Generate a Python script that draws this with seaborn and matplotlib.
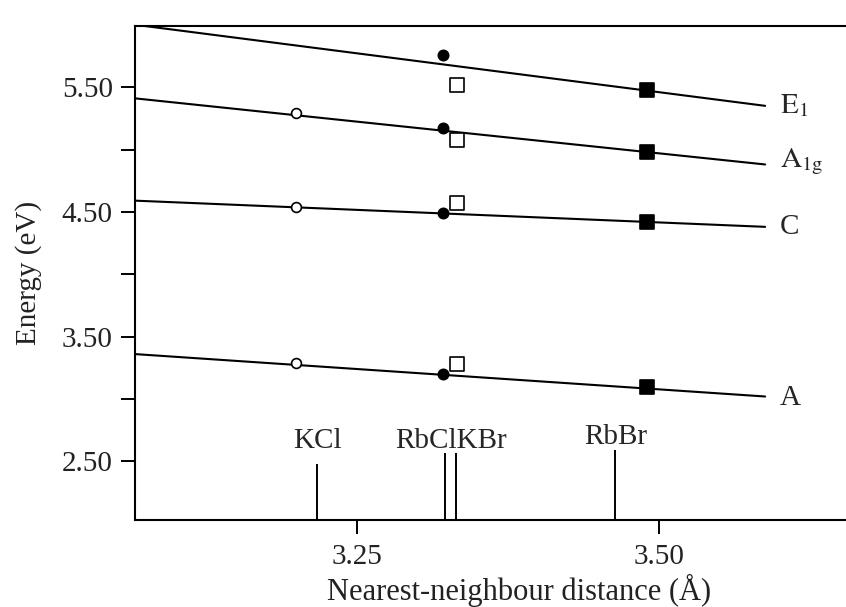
import matplotlib
matplotlib.use("Agg")
import matplotlib.pyplot as plt
import seaborn as sns
import pandas as pd

sns.set_theme(style="ticks")
plt.rcParams["font.family"] = ["Liberation Serif", "DejaVu Serif"]
plt.rcParams["mathtext.fontset"] = "stix"

# Bands and their fitted trend lines (energy at the two line ends)
bands = ["E1", "A1g", "C", "A"]
band_labels = [r"$\mathrm{E_1}$", r"$\mathrm{A_{1g}}$", "C", "A"]
line_x = [3.066, 3.588]
line_e1 = [6.00, 5.35]
line_a1g = [5.41, 4.88]
line_c = [4.59, 4.38]
line_a = [3.36, 3.02]

# Measured points for each crystal (E1, A1g, C, A)
point_x = {"open_circle": 3.199, "filled_circle": 3.321,
           "open_square": 3.333, "filled_square": 3.490}
e_open_circle = [None, 5.29, 4.54, 3.29]
e_filled_circle = [5.76, 5.17, 4.49, 3.20]
e_open_square = [5.52, 5.08, 4.57, 3.28]
e_filled_square = [5.48, 4.98, 4.42, 3.10]

# Salt markers along the distance axis
salts = ["KCl", "RbCl", "KBr", "RbBr"]
salt_x = [3.217, 3.323, 3.332, 3.464]
salt_top = [2.48, 2.57, 2.57, 2.59]

FS = 21
fig = plt.figure(figsize=(8.46, 6.07), dpi=100)
ax = fig.add_axes([135 / 846, 1 - 520 / 607, 1 - 135 / 846, (520 - 26) / 607])

line_sets = [line_e1, line_a1g, line_c, line_a]
for vals in line_sets:
    df = pd.DataFrame({"x": line_x, "y": vals})
    sns.lineplot(data=df, x="x", y="y", ax=ax, color="black", lw=1.5)

styles = [
    ("open_circle", e_open_circle, "o", "white", 50),
    ("filled_circle", e_filled_circle, "o", "black", 55),
    ("open_square", e_open_square, "s", "white", 90),
    ("filled_square", e_filled_square, "s", "black", 90),
]
for key, vals, mk, fc, sz in styles:
    rows = [(point_x[key], v) for v in vals if v is not None]
    df = pd.DataFrame(rows, columns=["x", "y"])
    sns.scatterplot(data=df, x="x", y="y", ax=ax, marker=mk, s=sz,
                    facecolor=fc, edgecolor="black", linewidth=1.2, zorder=3)

ax.set_xlim(3.066, 3.655)
ax.set_ylim(2.03, 5.99)

ax.vlines(salt_x, 2.03, salt_top, color="black", lw=1.4)
ax.text(salt_x[0], 2.61, "KCl", ha="center", va="baseline", fontsize=FS)
ax.text((salt_x[1] + salt_x[2]) / 2, 2.61, "RbClKBr", ha="center", va="baseline", fontsize=FS)
ax.text(salt_x[3], 2.64, "RbBr", ha="center", va="baseline", fontsize=FS)

label_y = [5.35, 4.90, 4.38, 3.01]
for lab, yy in zip(band_labels, label_y):
    ax.text(3.600, yy, lab, ha="left", va="center", fontsize=FS)

ax.set_xticks([3.25, 3.50])
ax.set_xticklabels(["3.25", "3.50"])
ax.set_yticks([2.5, 3.0, 3.5, 4.0, 4.5, 5.0, 5.5])
ax.set_yticklabels(["2.50", "", "3.50", "", "4.50", "", "5.50"])
ax.tick_params(axis="both", labelsize=FS, direction="out", length=10, width=1.4,
               color="black", labelcolor="#222222")
ax.tick_params(axis="x", pad=7)
ax.tick_params(axis="y", pad=6)

ax.set_xlabel("Nearest-neighbour distance (Å)", fontsize=22, color="#222222")
ax.xaxis.set_label_coords((519 - 135) / 711, -0.142)
ax.xaxis.label.set_va("center")
ax.set_ylabel("Energy (eV)", fontsize=FS, color="#222222", labelpad=14)

for side in ["left", "bottom", "top"]:
    ax.spines[side].set_color("black")
    ax.spines[side].set_linewidth(1.5)
ax.spines["right"].set_visible(False)

fig.savefig("out.png", dpi=100)
